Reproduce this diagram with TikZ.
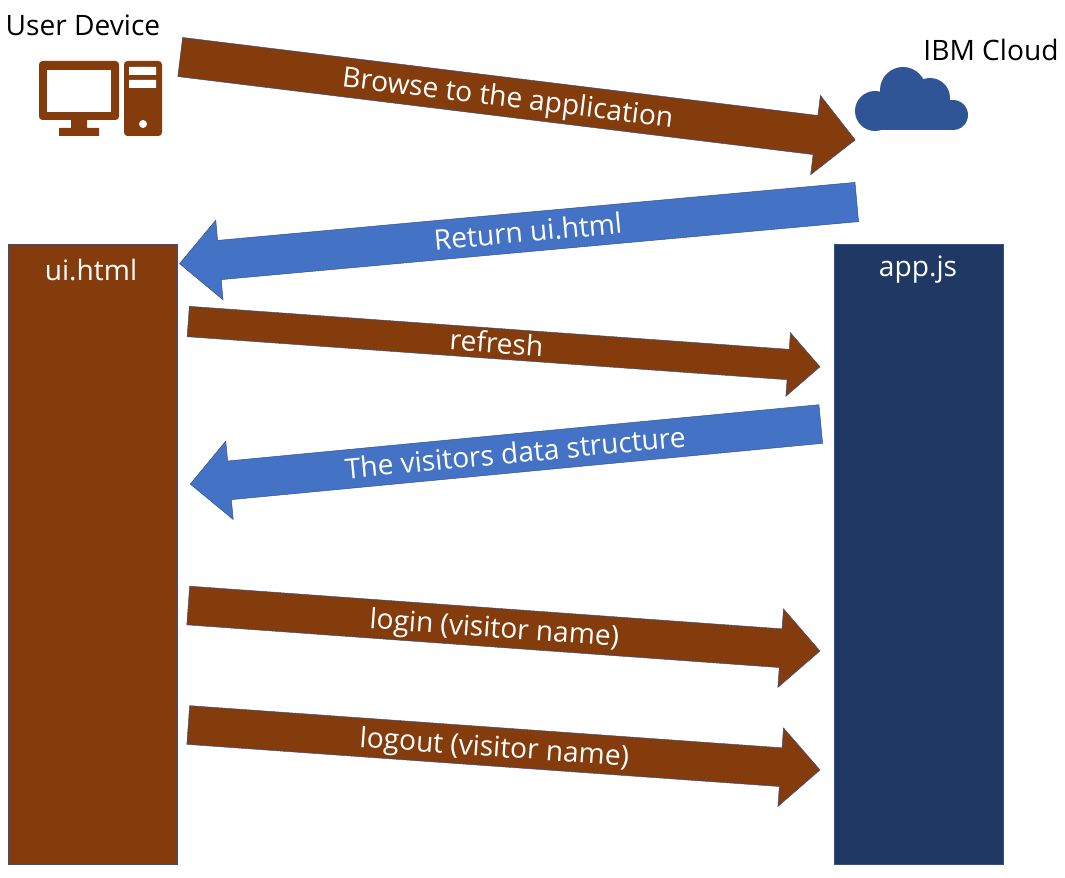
\documentclass[tikz,border=0pt]{standalone}
\usepackage{fontspec}
\setmainfont{Open Sans}
\usetikzlibrary{shapes.arrows}
\definecolor{brownfill}{HTML}{843C0C}
\definecolor{bluefill}{HTML}{4472C4}
\definecolor{blueline}{HTML}{2F528F}
\definecolor{navyfill}{HTML}{203864}
\definecolor{cloudblue}{HTML}{2F5597}
\tikzstyle{block} = [rectangle, draw=blueline, minimum width=5.07cm, minimum height=18.6cm, anchor=north west, inner sep=0pt]
\tikzstyle{label} = [text=white, inner sep=0pt, font=\fontsize{24}{24}\selectfont]
\tikzstyle{caption} = [text=black, inner sep=0pt, font=\fontsize{24}{24}\selectfont]
\tikzstyle{flow} = [single arrow, draw=blueline, text=white, anchor=tail, inner xsep=0pt, inner ysep=0pt, text height=0.87cm, text depth=0.28cm, font=\fontsize{24}{24}\selectfont, single arrow head extend=0.6cm, minimum width=2.28cm, minimum height=19cm]

\begin{document}
\begin{tikzpicture}[x=0.03cm, y=-0.03cm]
\useasboundingbox (0,0) rectangle (1065,878);

% Nodes
\node (userdevice) [caption] at (83,25) {User Device};
\node (ibmcloud) [caption] at (991,50) {IBM Cloud};
\node (uihtml) [block, fill=brownfill] at (8,244) {};
\node (appjs) [block, fill=navyfill] at (834,244) {};
\node (uilabel) [label] at (91,270) {ui.html};
\node (applabel) [label] at (918,270) {app.js};

% Arrows
\node (browse) [flow, fill=brownfill, rotate=-7, minimum height=20.4cm, minimum width=2.4cm] at (180,57) {Browse to the application};
\node (returnui) [flow, fill=bluefill, rotate=5.2, shape border rotate=180, minimum height=20.4cm, minimum width=2.4cm] at (857,202) {Return ui.html};
\node (refresh) [flow, fill=brownfill, rotate=-4.1, text height=0.74cm, text depth=0.16cm, minimum width=1.89cm, single arrow head extend=0.5cm] at (188,321.5) {refresh};
\node (visitors) [flow, fill=bluefill, rotate=5.44, shape border rotate=180] at (821,424) {The visitors data structure};
\node (login) [flow, fill=brownfill, rotate=-4.12] at (188,605.5) {login (visitor name)};
\node (logout) [flow, fill=brownfill, rotate=-4.07] at (188,725) {logout (visitor name)};

% Icon
\fill[brownfill, rounded corners=3pt] (39,61) rectangle (119,120);
\fill[white] (47,70) rectangle (111,112);
\fill[brownfill] (71,120) rectangle (87,128) (59,128) rectangle (99,136);
\fill[brownfill, rounded corners=3pt] (124,61) rectangle (162,136);
\fill[white] (129,67) rectangle (156,75) (129,80) rectangle (156,88) (143,124) circle (4);

% Cloud
\foreach \cx/\cy/\cr in {875/111/20, 903/90/23, 930/98/20, 953/115/15}
  \fill[cloudblue] (\cx,\cy) circle (\cr);
\fill[cloudblue] (875,100) rectangle (953,130.5);
\end{tikzpicture}
\end{document}
